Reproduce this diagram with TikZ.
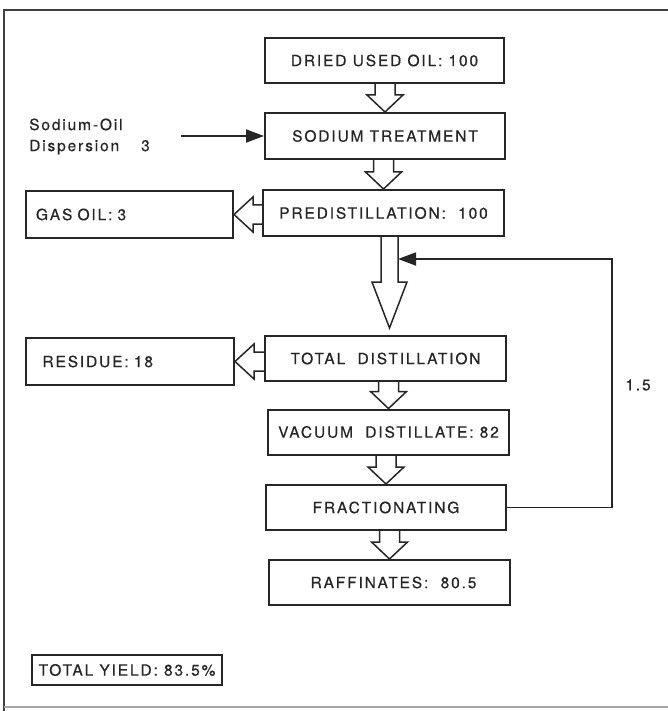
\documentclass[tikz,border=0pt]{standalone}
\usepackage{fontspec}
\setmainfont{TeX Gyre Heros}[LetterSpace=12,FakeBold=0.5]
\usetikzlibrary{arrows.meta,calc}
\tikzset{
  box/.style={draw=black!85, line width=2pt, inner sep=0pt, minimum height=45pt,
    font=\fontsize{15.5}{18}\selectfont, text=black!85},
  hollow/.style={draw=black!85, line width=1.5pt, line join=miter},
  conn/.style={draw=black!85, line width=1.8pt, -{Triangle[length=18pt,width=13pt]}},
  lbl/.style={font=\fontsize{15.5}{21}\selectfont, inner sep=0pt, text=black!85},
  frameline/.style={draw=black!75, line width=1.6pt},
}
\newcommand\hdown[5]{\draw[hollow] let \p1=#1, \p2=#2 in
  (\x2-#3,\y1) -- (\x2-#3,\y2+#5) -- (\x2-#4,\y2+#5) -- (\x2,\y2) --
  (\x2+#4,\y2+#5) -- (\x2+#3,\y2+#5) -- (\x2+#3,\y1);}
\newcommand\hleft[5]{\draw[hollow] let \p1=#1, \p2=#2 in
  (\x1,\y2+#3) -- (\x2+#5,\y2+#3) -- (\x2+#5,\y2+#4) -- (\x2,\y2) --
  (\x2+#5,\y2-#4) -- (\x2+#5,\y2-#3) -- (\x1,\y2-#3);}
\begin{document}
\begin{tikzpicture}[x=1pt,y=-1pt]
\useasboundingbox (0,0) rectangle (668,711);
% frame
\draw[frameline] (4,711) -- (4,10) -- (668,10);
\draw[draw=black!35, line width=1.2pt] (4,707) -- (668,707);

% main column
\node[box, minimum width=239pt] (dried) at (384.5,60.5) {DRIED USED OIL: 100};
\node[box, minimum width=240pt, minimum height=46pt] (sodium) at (385,136) {SODIUM TREATMENT};
\node[box, minimum width=241pt, minimum height=46pt] (predist) at (383.5,213) {PREDISTILLATION:\ \ 100};
\node[box, minimum width=241pt] (totaldist) at (385.5,358.5) {TOTAL\ \ DISTILLATION};
\node[box, minimum width=241pt] (vacuum) at (388.5,432) {VACUUM\ \ DISTILLATE: 82};
\node[box, minimum width=240pt] (fract) at (386,507.5) {FRACTIONATING};
\node[box, minimum width=241pt] (raff) at (389.5,582.5) {\hspace{8pt}RAFFINATES:\ \ 80.5};

% side boxes
\node[box, minimum width=207pt, minimum height=47pt, text width=187pt, align=left] (gasoil) at (129.5,214.5) {GAS OIL: 3};
\node[box, minimum width=208pt, minimum height=47pt, text width=175pt, align=left] (residue) at (130,361.5) {RESIDUE: 18};
\node[box, minimum width=190pt, minimum height=30pt] (yield) at (127,670) {TOTAL YIELD: 83.5\%};

% hollow arrows
\hdown{(dried.south)}{(sodium.north)}{10pt}{18pt}{17pt}
\hdown{(sodium.south)}{(predist.north)}{10pt}{18pt}{17pt}
\hdown{(totaldist.south)}{(vacuum.north)}{10pt}{18pt}{17pt}
\hdown{(vacuum.south)}{(fract.north)}{10pt}{18pt}{17pt}
\hdown{(fract.south)}{(raff.north)}{10pt}{18pt}{17pt}
\hdown{(predist.south)}{([xshift=4pt,yshift=7pt]totaldist.north)}{8.5pt}{17.5pt}{46pt}
\hleft{(predist.west)}{(gasoil.east)}{9.5pt}{17.5pt}{19pt}
\hleft{(totaldist.west)}{(residue.east)}{9.5pt}{17.5pt}{19pt}

% input
\node[lbl, align=left, anchor=west] (nalabel) at (29,136.5) {Sodium-Oil\\Dispersion\hspace{22pt}3};
\coordinate (nastart) at (181,136);
\draw[conn] (nastart) -- (sodium.west);

% recycle
\coordinate (fbin) at (398,259);
\draw[conn] (fract.east) -- ++(105,0) |- (fbin);
\node[lbl] (recycle) at (638,385) {1.5};
\end{tikzpicture}
\end{document}
